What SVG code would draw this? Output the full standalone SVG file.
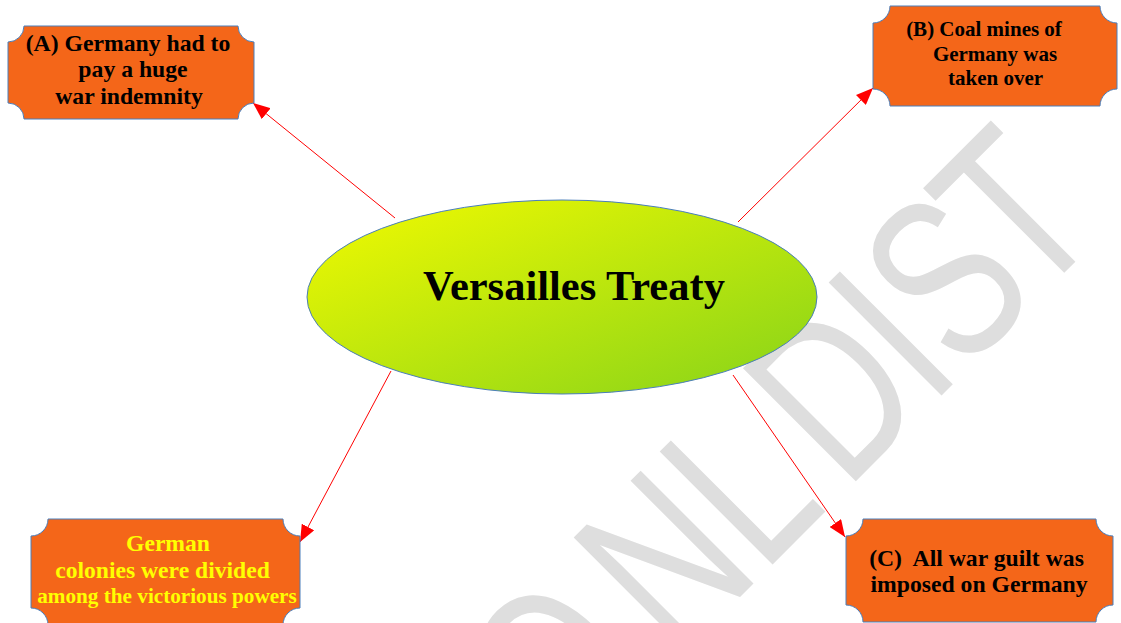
<svg xmlns="http://www.w3.org/2000/svg" width="1121" height="623" viewBox="0 0 1121 623">
<style>
.box{fill:#f46619;stroke:#4a7ebb;stroke-width:1}
.t{font-family:"Liberation Serif","Times New Roman",serif;font-weight:bold;text-anchor:middle;fill:#000}
.y{fill:#ffff00}
.con{stroke:#ff0000;stroke-width:1;fill:none;marker-end:url(#ah)}
.wm{font-family:"Liberation Sans",Arial,sans-serif;font-size:232px;fill:#dedede}
</style>
<defs>
<marker id="ah" markerUnits="userSpaceOnUse" markerWidth="18" markerHeight="14" refX="17" refY="7" orient="auto">
<path d="M0,0 L17,7 L0,14 Z" fill="#ff0000"/>
</marker>
<linearGradient id="eg" x1="0" y1="0" x2="1" y2="1">
<stop offset="0" stop-color="#f2fa00"/>
<stop offset="1" stop-color="#86d31a"/>
</linearGradient>
</defs>
<rect width="1121" height="623" fill="#ffffff"/>
<g id="watermark" transform="translate(777,560) rotate(-45) scale(0.73,1)">
<text class="wm" x="-410.8 -194.2 -27.8 133.8 297.4 358.9 496.3" y="0">ONLDIST</text>
</g>
<g id="connectors">
<line class="con" x1="395" y1="218" x2="253" y2="103"/>
<line class="con" x1="738" y1="222" x2="873" y2="88"/>
<line class="con" x1="391" y1="371" x2="300" y2="542"/>
<line class="con" x1="733" y1="375" x2="845" y2="537"/>
</g>
<g id="center">
<ellipse cx="562" cy="297" rx="255" ry="97" fill="url(#eg)" stroke="#4a7ebb" stroke-width="1"/>
<text class="t" x="574" y="300" font-size="42.5">Versailles Treaty</text>
</g>
<g id="nodeA">
<path class="box" d="M24,26 H238 A16,16 0 0 0 254,42 V103 A16,16 0 0 0 238,119 H24 A16,16 0 0 0 8,103 V42 A16,16 0 0 0 24,26 Z"/>
<text class="t" font-size="23.7"><tspan x="128" y="51">(A) Germany had to</tspan><tspan x="133" y="77">pay a huge</tspan><tspan x="129" y="104">war indemnity</tspan></text>
</g>
<g id="nodeB">
<path class="box" d="M890,6 H1100 A17,17 0 0 0 1117,23 V89 A17,17 0 0 0 1100,106 H890 A17,17 0 0 0 873,89 V23 A17,17 0 0 0 890,6 Z"/>
<text class="t" font-size="21"><tspan x="984" y="36">(B) Coal mines of</tspan><tspan x="995" y="61">Germany was</tspan><tspan x="995.5" y="85">taken over</tspan></text>
</g>
<g id="nodeD">
<path class="box" d="M48,519 H283 A17,17 0 0 0 300,536 V608 A17,17 0 0 0 283,625 H48 A17,17 0 0 0 31,608 V536 A17,17 0 0 0 48,519 Z"/>
<text class="t y" font-size="23.6"><tspan x="168" y="551">German</tspan><tspan x="162.5" y="578">colonies were divided</tspan></text>
<text class="t y" font-size="21.2" x="167" y="603">among the victorious powers</text>
</g>
<g id="nodeC">
<path class="box" d="M863,519 H1096 A17,17 0 0 0 1113,536 V605 A17,17 0 0 0 1096,622 H863 A17,17 0 0 0 846,605 V536 A17,17 0 0 0 863,519 Z"/>
<text class="t" font-size="23.7" xml:space="preserve"><tspan x="976.5" y="566">(C)  All war guilt was</tspan><tspan x="979" y="592">imposed on Germany</tspan></text>
</g>
</svg>
